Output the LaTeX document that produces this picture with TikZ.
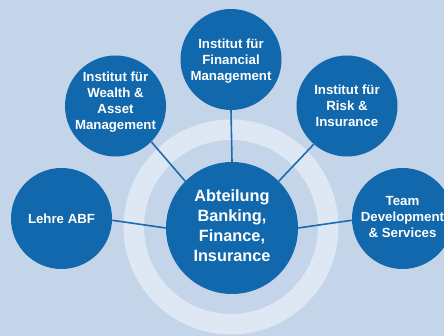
\documentclass[tikz,border=0pt]{standalone}
\usepackage{fontspec}
\setmainfont{Liberation Sans}
\definecolor{bgblue}{HTML}{C4D4E9}
\definecolor{ringblue}{HTML}{DEE8F4}
\definecolor{discblue}{HTML}{1268AC}
\definecolor{linkblue}{HTML}{1A6BB0}
\begin{document}
\begin{tikzpicture}[x=1pt,y=-1pt,
  disc/.style={circle,fill=discblue,inner sep=0pt,minimum size=101pt},
  bigdisc/.style={disc,minimum size=132pt},
  lbl/.style={inner sep=0pt,text=white,align=center,
    font=\fontsize{13.25}{16}\selectfont\bfseries},
  biglbl/.style={lbl,font=\fontsize{16.3}{20}\selectfont\bfseries},
  link/.style={draw=linkblue,line width=1.6pt}]
\useasboundingbox (0,0) rectangle (444,336);
\clip (0,0) rectangle (444,336);
\fill[bgblue] (0,0) rectangle (444,336);
\coordinate (ringc) at (231,227);
\fill[ringblue,even odd rule] (ringc) circle[radius=107.5pt] (ringc) circle[radius=87pt];
\node[bigdisc] (C) at (232,228) {};
\node[disc] (T) at (231,59.5) {};
\node[disc] (UL) at (115.5,106) {};
\node[disc] (UR) at (347,106) {};
\node[disc] (L) at (61.5,218.5) {};
\node[disc] (R) at (402.5,218.5) {};
\node[biglbl] (Ct) at ([yshift=2.5pt]C.center) {Abteilung\\Banking,\\Finance,\\Insurance};
\node[lbl] (Tt) at ([yshift=-1.5pt]T.center) {Institut für\\Financial\\Management};
\node[lbl] (ULt) at ([yshift=3.5pt]UL.center) {Institut für\\Wealth \&\\Asset\\Management};
\node[lbl] (URt) at (UR.center) {Institut für\\Risk \&\\Insurance};
\node[lbl] (Lt) at (L.center) {Lehre ABF};
\node[lbl] (Rt) at ([yshift=1pt]R.center) {Team\\Development\\\& Services};
\draw[link] (T.-90) -- (C.90);
\draw[link] (UL.-45) -- (C.135);
\draw[link] (UR.-131) -- (C.45);
\draw[link] (L.-2) -- (C.180);
\draw[link] (C.0) -- (R.182);
\end{tikzpicture}
\end{document}
